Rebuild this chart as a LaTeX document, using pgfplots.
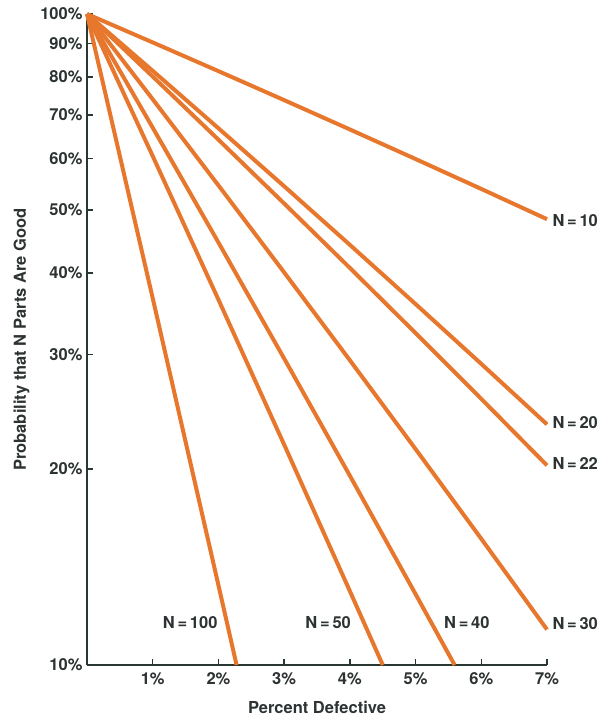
\documentclass[border=0pt]{standalone}
\usepackage{fontspec}
\setmainfont{TeX Gyre Heros}
\usepackage{pgfplots}
\usetikzlibrary{calc}
\pgfplotsset{compat=1.18}
\definecolor{lineor}{RGB}{232,119,46}
\definecolor{txt}{RGB}{45,50,50}
\definecolor{axc}{RGB}{40,55,50}
\newcommand{\lf}{\bfseries\fontsize{16.5}{18}\selectfont}
\pgfplotsset{ol/.style={color=lineor, line width=4pt, line join=round, mark=none, solid}}
\begin{document}
\begin{tikzpicture}
\begin{axis}[
  scale only axis, width=460pt, height=651pt,
  ymode=log, ymin=0.1, ymax=1, xmin=0, xmax=7,
  axis lines=left, axis line style={-, axc, line width=1.4pt},
  clip=false,
  xtick={1,2,3,4,5,6,7},
  xticklabels={1\%,2\%,3\%,4\%,5\%,6\%,7\%},
  ytick={0.1,0.2,0.3,0.4,0.5,0.6,0.7,0.8,0.9,1},
  yticklabels={10\%,20\%,30\%,40\%,50\%,60\%,70\%,80\%,90\%,100\%},
  minor ytick={}, log basis y=10,
  tick align=inside, major tick length=6pt,
  tick style={axc, line width=1.4pt},
  every tick label/.append style={font=\lf, text=txt},
  xticklabel style={yshift=-4pt},
  yticklabel style={xshift=-1pt},
  xlabel={Percent Defective}, ylabel={Probability that N Parts Are Good},
  label style={font=\lf, text=txt},
  xlabel style={yshift=-10pt},
  ylabel style={yshift=4pt},
]
\coordinate (sw) at (rel axis cs:0,0);
\coordinate (ne) at (rel axis cs:1,1);
% N = 10
\addplot[ol] coordinates {(0,1) (1,0.90438) (2,0.81707) (3,0.73742) (4,0.66483) (5,0.59874) (6,0.53862) (7,0.48398)};
% N = 20
\addplot[ol] coordinates {(0,1) (1,0.81791) (2,0.66761) (3,0.54379) (4,0.44200) (5,0.35849) (6,0.29011) (7,0.23424)};
% N = 22
\addplot[ol] coordinates {(0,1) (1,0.80163) (2,0.64117) (3,0.51165) (4,0.40735) (5,0.32354) (6,0.25634) (7,0.20259)};
% N = 30
\addplot[ol] coordinates {(0,1) (1,0.73970) (2,0.54548) (3,0.40100) (4,0.29386) (5,0.21464) (6,0.15626) (7,0.11337)};
% N = 40
\addplot[ol] coordinates {(0,1) (1,0.66898) (2,0.44570) (3,0.29571) (4,0.19537) (5,0.12851) (5.594,0.1)};
% N = 50
\addplot[ol] coordinates {(0,1) (1,0.60501) (2,0.36417) (3,0.21806) (4,0.12989) (4.501,0.1)};
% N = 100
\addplot[ol] coordinates {(0,1) (1,0.36603) (2,0.13262) (2.276,0.1)};
\node[anchor=west, font=\lf, text=txt] at (axis cs:7.03,0.481) {N\,=\,10};
\node[anchor=west, font=\lf, text=txt] at (axis cs:7.03,0.236) {N\,=\,20};
\node[anchor=west, font=\lf, text=txt] at (axis cs:7.03,0.2043) {N\,=\,22};
\node[anchor=west, font=\lf, text=txt] at (axis cs:7.03,0.1156) {N\,=\,30};
\node[font=\lf, text=txt] at (axis cs:1.57,0.1164) {N\,=\,100};
\node[font=\lf, text=txt] at (axis cs:3.67,0.1164) {N\,=\,50};
\node[font=\lf, text=txt] at (axis cs:5.78,0.1164) {N\,=\,40};
\end{axis}
\pgfresetboundingbox
\path[use as bounding box] ($(sw)+(-87pt,-52pt)$) rectangle ($(ne)+(59pt,14pt)$);
\end{tikzpicture}
\end{document}
